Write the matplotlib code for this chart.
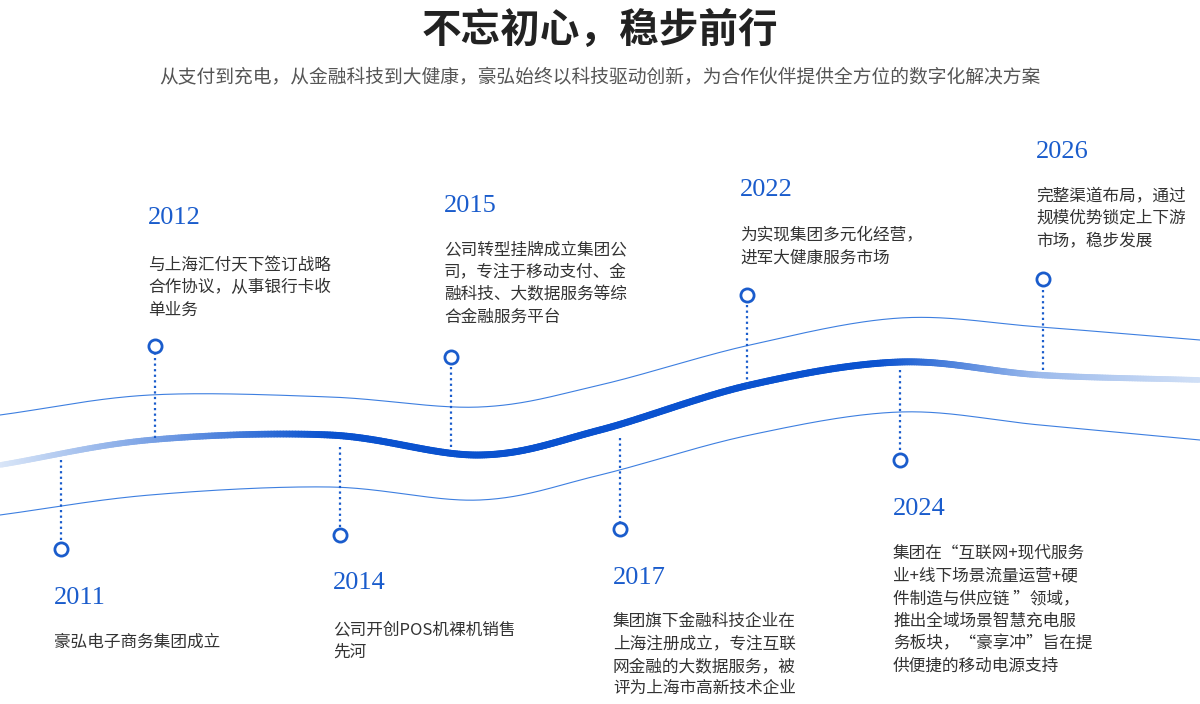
import numpy as np
import matplotlib
matplotlib.use("Agg")
import matplotlib.pyplot as plt
from matplotlib.collections import LineCollection
from matplotlib.colors import to_rgb

plt.rcParams['font.family'] = ['Noto Sans CJK SC', 'DejaVu Sans']

title = "不忘初心，稳步前行"
subtitle = "从支付到充电，从金融科技到大健康，豪弘始终以科技驱动创新，为合作伙伴提供全方位的数字化解决方案"

years = ["2011", "2012", "2014", "2015", "2017", "2022", "2024", "2026"]
texts = [
    "豪弘电子商务集团成立",
    "与上海汇付天下签订战略\n合作协议，从事银行卡收\n单业务",
    "公司开创POS机裸机销售\n先河",
    "公司转型挂牌成立集团公\n司，专注于移动支付、金\n融科技、大数据服务等综\n合金融服务平台",
    "集团旗下金融科技企业在\n上海注册成立，专注互联\n网金融的大数据服务，被\n评为上海市高新技术企业",
    "为实现集团多元化经营，\n进军大健康服务市场",
    "集团在\u201c互联网+现代服务\n业+线下场景流量运营+硬\n件制造与供应链 \u201d领域，\n推出全域场景智慧充电服\n务板块，\u201c豪享冲\u201d旨在提\n供便捷的移动电源支持",
    "完整渠道布局，通过\n规模优势锁定上下游\n市场，稳步发展",
]
# layout (pixel coords)
marker_x = [61, 155, 340, 451, 620, 747, 900, 1043]
marker_y = [549, 346, 535, 357, 529, 295, 460, 279]
stem_y = [460, 438, 447, 447, 438, 385, 370, 370]
year_y = [598, 218, 583, 206, 578, 190, 509, 152]
text_y = [645, 268, 632, 252, 624, 238, 556, 198]

wave_x = [0, 150, 330, 480, 600, 750, 900, 1040, 1200]
mid_y = [465, 440, 435, 455, 430, 385, 362, 375, 380]
up_y = [415, 395, 397, 407, 385, 345, 318, 327, 340]
lo_y = [515, 495, 487, 500, 475, 435, 412, 425, 440]

def smooth(xs, ys):
    xs = np.array(xs, float); ys = np.array(ys, float)
    P = np.column_stack([xs, ys])
    P = np.vstack([2*P[0]-P[1], P, 2*P[-1]-P[-2]])
    out = []
    for i in range(1, len(P)-2):
        p0, p1, p2, p3 = P[i-1], P[i], P[i+1], P[i+2]
        t = np.linspace(0, 1, 60, endpoint=False)[:, None]
        c = 0.5*((2*p1) + (-p0+p2)*t + (2*p0-5*p1+4*p2-p3)*t**2 + (-p0+3*p1-3*p2+p3)*t**3)
        out.append(c)
    out.append(P[-2][None, :])
    return np.vstack(out)

fig = plt.figure(figsize=(12, 7.04), dpi=100)
ax = fig.add_axes([0, 0, 1, 1])
ax.set_xlim(0, 1200); ax.set_ylim(704, 0); ax.axis('off')

for ys in (up_y, lo_y):
    c = smooth(wave_x, ys)
    ax.plot(c[:, 0], c[:, 1], color='#3d7fe0', lw=0.8)

c = smooth(wave_x, mid_y)
segs = np.stack([c[:-1], c[1:]], axis=1)
xm = (c[:-1, 0] + c[1:, 0]) / 2
dark = np.array(to_rgb('#0a52cf')); light = np.array(to_rgb('#dbe7f8'))
w = np.interp(xm, [0, 330, 880, 1040, 1200], [0, 1, 1, 0.3, 0.05])
cols = light[None, :] * (1 - w[:, None]) + dark[None, :] * w[:, None]
lws = np.interp(xm, [0, 330, 900, 1200], [4, 5, 5, 4])
ax.add_collection(LineCollection(segs, colors=cols, linewidths=lws, capstyle='round'))

blue = '#1a5ccc'
for i in range(len(years)):
    ax.plot([marker_x[i], marker_x[i]], [stem_y[i], marker_y[i]], color=blue, lw=1.6, ls=(0, (1, 1.5)), zorder=3)
    ax.scatter([marker_x[i]], [marker_y[i]], s=90, facecolor='white', edgecolor=blue, linewidths=2, zorder=4)
    tx = marker_x[i] - 7
    ax.text(tx, year_y[i], years[i], fontsize=19, color=blue, family='Liberation Serif', va='center', ha='left')
    ax.text(tx, text_y[i] - 11, texts[i], fontsize=12, color='#333333', va='top', ha='left', linespacing=1.42)

ax.text(600, 30, title, fontsize=28.5, fontweight='bold', color='#222222', ha='center', va='center')
ax.text(600, 78, subtitle, fontsize=13.5, color='#555555', ha='center', va='center')

fig.savefig('out.png', dpi=100)
